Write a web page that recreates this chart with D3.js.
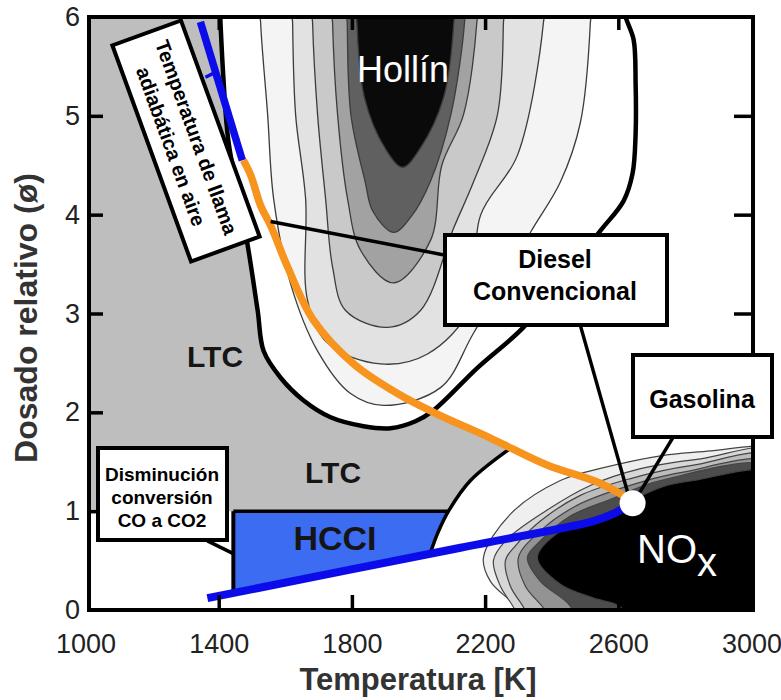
<!DOCTYPE html>
<html>
<head>
<meta charset="utf-8">
<script src="https://cdn.jsdelivr.net/npm/d3@7"></script>
<style>
  body { margin: 0; background: #fff; }
  svg { display: block; font-family: "Liberation Sans", Arial, sans-serif; }
</style>
</head>
<body>
<script>
// ticks
const tempTicks = [1000, 1400, 1800, 2200, 2600, 3000];
const phiTicks = [0, 1, 2, 3, 4, 5, 6];

// all shapes are [temperatura K, dosado relativo]
// LTC zone (gray) and its black outline
const ltcBoundary = [[1402,6.2],[1405,5.97],[1414,5.39],[1429,4.75],[1486,3.71],[1517,3.03],[1535,2.62],[1586,2.35],[1655,2.12],[1736,1.95],[1835,1.86],[1916,1.84],[1991,1.91],[2045,2.02],[2177,2.45],[2315,2.86],[2441,3.38],[2547,3.84],[2616,4.14],[2643,4.42],[2652,4.82],[2652,5.33],[2646,5.77],[2622,6.0],[2610,6.2]];
const ltcUnderFlame = [[2045,2.02],[2216,1.74],[2282,1.65]];
const ltcBase = [[2090,1.0],[950,1.0],[950,6.2]];
const hcciEdge = [[2282,1.65],[2156,1.31],[2090,1.0],[2058,0.78],[2034,0.56]];
const hcciRegion = [[1444,1.0],[2090,1.0],[2058,0.78],[2034,0.56],[1444,0.15]];
const hcciTop = [[1444,1.0],[2090,1.0]];
const hcciLeft = [[1444,1.0],[1444,0.15]];

// soot (Hollín) contours, outer to inner
const soot0 = [[1526,6.2],[1526,5.94],[1547,5.01],[1565,4.16],[1616,3.30],[1697,2.62],[1796,2.19],[1895,2.07],[2066,2.25],[2165,2.80],[2336,3.82],[2426,4.33],[2486,4.93],[2516,5.94],[2516,6.2]];
const soot1 = [[1622,6.2],[1622,5.94],[1631,5.01],[1661,4.16],[1667,3.13],[1727,2.70],[1886,2.49],[2027,2.59],[2156,3.06],[2186,3.99],[2297,4.60],[2375,5.94],[2375,6.2]];
const soot2 = [[1682,6.2],[1682,5.94],[1697,5.01],[1721,4.16],[1742,3.47],[1781,3.03],[1907,2.86],[2006,3.03],[2105,3.86],[2165,4.33],[2237,5.01],[2255,5.94],[2255,6.2]];
const soot3 = [[1742,6.2],[1742,5.94],[1757,5.01],[1787,4.16],[1826,3.64],[1925,3.31],[2036,3.74],[2070,4.50],[2135,5.01],[2175,5.94],[2175,6.2]];
const soot4 = [[1786,6.2],[1786,5.94],[1797,5.01],[1840,4.33],[1862,4.04],[1925,3.82],[1980,3.99],[2035,4.33],[2097,5.01],[2138,5.94],[2138,6.2]];
const soot5 = [[1815,6.2],[1815,5.94],[1838,5.18],[1900,4.67],[1952,4.48],[2005,4.67],[2075,5.18],[2106,5.94],[2106,6.2]];

// NOx contours, outer to inner
const nox0 = [[3100,1.66],[3012,1.66],[2877,1.61],[2727,1.56],[2556,1.44],[2426,1.31],[2276,0.97],[2195,0.53],[2216,0.29],[2276,0.09],[2306,-0.03],[2320,-0.2],[3100,-0.2]];
const nox1 = [[3100,1.59],[2847,1.53],[2667,1.43],[2516,1.26],[2381,1.00],[2261,0.70],[2225,0.50],[2246,0.24],[2291,-0.01],[2305,-0.2],[3100,-0.2]];
const nox2 = [[3100,1.53],[2817,1.46],[2637,1.33],[2486,1.16],[2366,0.90],[2291,0.65],[2261,0.50],[2276,0.24],[2321,-0.01],[2335,-0.2],[3100,-0.2]];
const nox3 = [[3100,1.46],[2787,1.39],[2607,1.23],[2471,1.05],[2366,0.80],[2300,0.53],[2321,0.24],[2381,-0.01],[2395,-0.2],[3100,-0.2]];
const nox4 = [[3100,1.41],[2727,1.31],[2577,1.12],[2456,0.95],[2366,0.70],[2327,0.53],[2366,0.29],[2456,0.04],[2480,-0.2],[3100,-0.2]];
const nox5 = [[3100,1.36],[2826,1.31],[2727,1.24],[2556,0.97],[2426,0.80],[2357,0.53],[2426,0.26],[2526,0.12],[2607,0.03],[2640,-0.2],[3100,-0.2]];

// adiabatic flame temperature in air
const flameBlue = [[1345,5.95],[1471,4.55]];
const flameMark = [[1360,5.39],[1390,5.44]];
const flameOrange = [[1474,4.55],[1496,4.40],[1526,4.09],[1556,3.89],[1607,3.47],[1685,2.93],[1805,2.49],[1937,2.19],[2045,2.00],[2216,1.74],[2384,1.47],[2547,1.28],[2643,1.10]];
const leanBlue = [[1366,0.12],[2126,0.63],[2526,0.90],[2583,0.97],[2622,1.04],[2652,1.10]];
const enginePoint = [2643, 1.08];

// callout leader ends
const leaderDieselCurve = [[2081,3.59],[1556,3.93]];
const leaderDieselPoint = [[2486,2.88],[2628,1.19]];
const leaderGasolina = [[2763,1.74],[2661,1.17]];
const leaderCO = [[1366,0.70],[1444,0.57]];

const W = 781, H = 700;
const frame = {left: 89, right: 753, top: 17, bottom: 610};

const x = d3.scaleLinear().domain([1000, 3000]).range([85.5, 751.5]);
const y = d3.scaleLinear().domain([0, 6]).range([610, 17]);

const straight = d3.line().x(d => x(d[0])).y(d => y(d[1]));
const smooth = d3.line().x(d => x(d[0])).y(d => y(d[1])).curve(d3.curveCatmullRom.alpha(0.5));
const closed = d3.line().x(d => x(d[0])).y(d => y(d[1])).curve(d3.curveCatmullRomClosed.alpha(0.5));
const cont = s => s.replace(/^M/, 'L');

const svg = d3.select('body').append('svg').attr('width', W).attr('height', H);

svg.append('clipPath').attr('id', 'plotclip')
  .append('rect')
  .attr('x', frame.left).attr('y', frame.top)
  .attr('width', frame.right - frame.left).attr('height', frame.bottom - frame.top);

const plot = svg.append('g').attr('clip-path', 'url(#plotclip)');

// gray LTC zone: left arm of the boundary, under the flame curve, down the HCCI edge, back along phi = 1
const ltcPath = smooth(ltcBoundary.slice(0, 14))
  + cont(straight(ltcUnderFlame))
  + cont(smooth(hcciEdge.slice(0, 3)))
  + cont(straight(ltcBase)) + 'Z';
plot.append('path').attr('d', ltcPath).attr('fill', '#bebebe');

const sootFills = ['#f4f4f4', '#e2e2e2', '#c9c9c9', '#a2a2a2', '#606060', '#0a0a0a'];
[soot0, soot1, soot2, soot3, soot4, soot5].forEach((c, i) => {
  plot.append('path').attr('d', closed(c))
    .attr('fill', sootFills[i]).attr('stroke', '#3c3c3c').attr('stroke-width', 1.3);
});

const noxFills = ['#efefef', '#d7d7d7', '#bcbcbc', '#939393', '#4c4c4c', '#000000'];
[nox0, nox1, nox2, nox3, nox4, nox5].forEach((c, i) => {
  plot.append('path').attr('d', closed(c))
    .attr('fill', noxFills[i]).attr('stroke', '#444').attr('stroke-width', 1.2);
});

plot.append('path').attr('d', straight(hcciRegion) + 'Z').attr('fill', '#3c6cf2');

// black zone outlines
plot.append('path').attr('d', smooth(ltcBoundary)).attr('fill', 'none').attr('stroke', '#000').attr('stroke-width', 4.5);
plot.append('path').attr('d', smooth(hcciEdge)).attr('fill', 'none').attr('stroke', '#000').attr('stroke-width', 3.5);
plot.append('path').attr('d', straight(hcciTop)).attr('stroke', '#000').attr('stroke-width', 3.5);
plot.append('path').attr('d', straight(hcciLeft)).attr('stroke', '#000').attr('stroke-width', 4);

// flame temperature lines
plot.append('path').attr('d', straight(flameBlue)).attr('fill', 'none').attr('stroke', '#0c0cea').attr('stroke-width', 7.5);
plot.append('path').attr('d', straight(flameMark)).attr('fill', 'none').attr('stroke', '#0c0cea').attr('stroke-width', 3.5);
plot.append('path').attr('d', smooth(flameOrange)).attr('fill', 'none').attr('stroke', '#f7941d').attr('stroke-width', 7.5);
plot.append('path').attr('d', smooth(leanBlue)).attr('fill', 'none').attr('stroke', '#0c0cea').attr('stroke-width', 8);

// zone labels
plot.append('text').attr('x', 403).attr('y', 82).attr('text-anchor', 'middle')
  .attr('font-size', 36).attr('fill', '#fff').text('Hollín');
const nox = plot.append('text').attr('x', 637).attr('y', 563).attr('font-size', 40).attr('fill', '#fff');
nox.append('tspan').text('NO');
nox.append('tspan').attr('dy', 13).text('x');

const zoneLabels = [['LTC', 215, 367, 30], ['LTC', 333, 483, 30], ['HCCI', 335, 550, 34]];
zoneLabels.forEach(([t, lx, ly, fs]) => {
  plot.append('text').attr('x', lx).attr('y', ly).attr('text-anchor', 'middle')
    .attr('font-size', fs).attr('font-weight', 'bold').attr('fill', '#151515').text(t);
});

// frame and axes
svg.append('rect')
  .attr('x', frame.left).attr('y', frame.top)
  .attr('width', frame.right - frame.left).attr('height', frame.bottom - frame.top)
  .attr('fill', 'none').attr('stroke', '#000').attr('stroke-width', 4);

function styleAxis(g, edgeTicks) {
  g.select('.domain').remove();
  g.attr('font-size', null).attr('font-family', null);
  g.selectAll('.tick line').attr('stroke', '#000').attr('stroke-width', 3.5);
  g.selectAll('.tick').filter(d => edgeTicks.includes(d)).select('line').remove();
  g.selectAll('.tick text').attr('font-size', 27).attr('fill', '#222');
}

svg.append('g').attr('transform', `translate(0,${frame.bottom})`)
  .call(d3.axisBottom(x).tickValues(tempTicks).tickSize(-15).tickPadding(24).tickFormat(d3.format('d')))
  .call(g => styleAxis(g, [1000, 3000]));
svg.append('g').attr('transform', `translate(0,${frame.top})`)
  .call(d3.axisTop(x).tickValues(tempTicks).tickSize(-13).tickFormat(''))
  .call(g => styleAxis(g, [1000, 3000]));
svg.append('g').attr('transform', `translate(${frame.left},0)`)
  .call(d3.axisLeft(y).tickValues(phiTicks).tickSize(-14).tickPadding(9).tickFormat(d3.format('d')))
  .call(g => styleAxis(g, [0, 6]));
svg.append('g').attr('transform', `translate(${frame.right},0)`)
  .call(d3.axisRight(y).tickValues(phiTicks).tickSize(-19).tickFormat(''))
  .call(g => styleAxis(g, [0, 6]));

svg.append('text').attr('x', 418).attr('y', 690).attr('text-anchor', 'middle')
  .attr('font-size', 31).attr('font-weight', 'bold').attr('fill', '#333').text('Temperatura [K]');
svg.append('text').attr('transform', 'translate(37,318) rotate(-90)').attr('text-anchor', 'middle')
  .attr('font-size', 32).attr('font-weight', 'bold').attr('fill', '#333').text('Dosado relativo (ø)');

// callouts
[leaderDieselCurve, leaderDieselPoint, leaderGasolina, leaderCO].forEach(l => {
  svg.append('path').attr('d', straight(l)).attr('stroke', '#000').attr('stroke-width', 3.5);
});

function box(bx, by, bw, bh, lines, fs, lineGap, firstBase, cx) {
  svg.append('rect').attr('x', bx).attr('y', by).attr('width', bw).attr('height', bh)
    .attr('fill', '#fff').attr('stroke', '#000').attr('stroke-width', 4);
  lines.forEach((t, i) => {
    svg.append('text').attr('x', cx).attr('y', firstBase + i * lineGap).attr('text-anchor', 'middle')
      .attr('font-size', fs).attr('font-weight', 'bold').attr('fill', '#000').text(t);
  });
}
box(445, 235, 222, 90, ['Diesel', 'Convencional'], 25, 32, 268, 555);
box(633, 355, 139, 82, ['Gasolina'], 25, 0, 408, 702);
box(98, 448, 129, 92, ['Disminución', 'conversión', 'CO a CO2'], 19, 23, 481, 162);

const tb = svg.append('g').attr('transform', 'translate(186,141) rotate(70)');
tb.append('rect').attr('x', -115).attr('y', -36.5).attr('width', 230).attr('height', 73)
  .attr('fill', '#fff').attr('stroke', '#000').attr('stroke-width', 4);
tb.append('text').attr('y', -4).attr('text-anchor', 'middle').attr('font-size', 20)
  .attr('font-weight', 'bold').attr('fill', '#000').text('Temperatura de llama');
tb.append('text').attr('y', 23).attr('text-anchor', 'middle').attr('font-size', 20)
  .attr('font-weight', 'bold').attr('fill', '#000').text('adiabática en aire');

svg.append('circle').attr('cx', x(enginePoint[0])).attr('cy', y(enginePoint[1])).attr('r', 13)
  .attr('fill', '#fff');
</script>
</body>
</html>
